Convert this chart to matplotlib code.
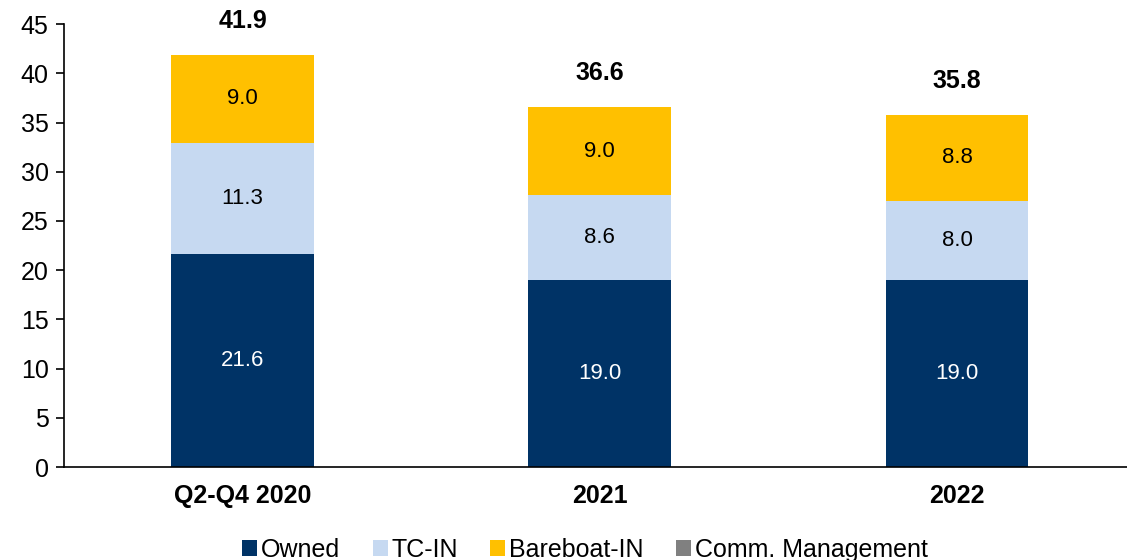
import numpy as np
import matplotlib.pyplot as plt

plt.rcParams['font.family'] = ['Liberation Sans', 'DejaVu Sans']

# data
periods = ['Q2-Q4 2020', '2021', '2022']
owned = np.array([21.6, 19.0, 19.0])
tc_in = np.array([11.3, 8.6, 8.0])
bareboat = np.array([9.0, 9.0, 8.8])
comm_mgmt = np.array([0.0, 0.0, 0.0])
totals = np.array([41.9, 36.6, 35.8])

c_owned = '#003366'
c_tc = '#C6D9F1'
c_bb = '#FFC000'
c_comm = '#808080'

fig = plt.figure(figsize=(11.27, 5.6), dpi=100)
ax = fig.add_axes([0.0568, 0.166, 0.9432, 0.791])

x = np.arange(len(periods))
w = 0.4
ax.bar(x, owned, w, color=c_owned, label='Owned')
ax.bar(x, tc_in, w, bottom=owned, color=c_tc, label='TC-IN')
ax.bar(x, bareboat, w, bottom=owned + tc_in, color=c_bb, label='Bareboat-IN')
ax.bar(x, comm_mgmt, w, bottom=owned + tc_in + bareboat, color=c_comm,
       label='Comm. Management')

# segment labels
for i in range(len(x)):
    ax.text(x[i], owned[i] / 2, f'{owned[i]:.1f}', ha='center', va='center',
            color='white', fontsize=16)
    ax.text(x[i], owned[i] + tc_in[i] / 2, f'{tc_in[i]:.1f}', ha='center',
            va='center', color='black', fontsize=16)
    ax.text(x[i], owned[i] + tc_in[i] + bareboat[i] / 2, f'{bareboat[i]:.1f}',
            ha='center', va='center', color='black', fontsize=16)
    ax.annotate(f'{totals[i]:.1f}', (x[i], totals[i]), xytext=(0, 24),
                textcoords='offset points', ha='center', va='center',
                fontsize=18, fontweight='bold', annotation_clip=False)

ax.set_xlim(-0.5, 2.476)
ax.set_ylim(0, 45)
ax.set_yticks(np.arange(0, 46, 5))
ax.set_xticks(x)
ax.set_xticklabels(periods, fontsize=18, fontweight='bold')
ax.tick_params(axis='x', length=0, pad=12)
ax.tick_params(axis='y', labelsize=18, length=6, width=1.2, direction='out', pad=5)

for s in ['top', 'right']:
    ax.spines[s].set_visible(False)
ax.spines['left'].set_linewidth(1.2)
ax.spines['bottom'].set_linewidth(1.2)

ax.legend(loc='upper center', bbox_to_anchor=(0.49, -0.155), ncol=4,
          frameon=False, fontsize=18, handlelength=0.6, handleheight=0.6,
          handletextpad=0.15, columnspacing=1.3, borderpad=0.1,
          borderaxespad=0)

fig.savefig('out.png', dpi=100)
